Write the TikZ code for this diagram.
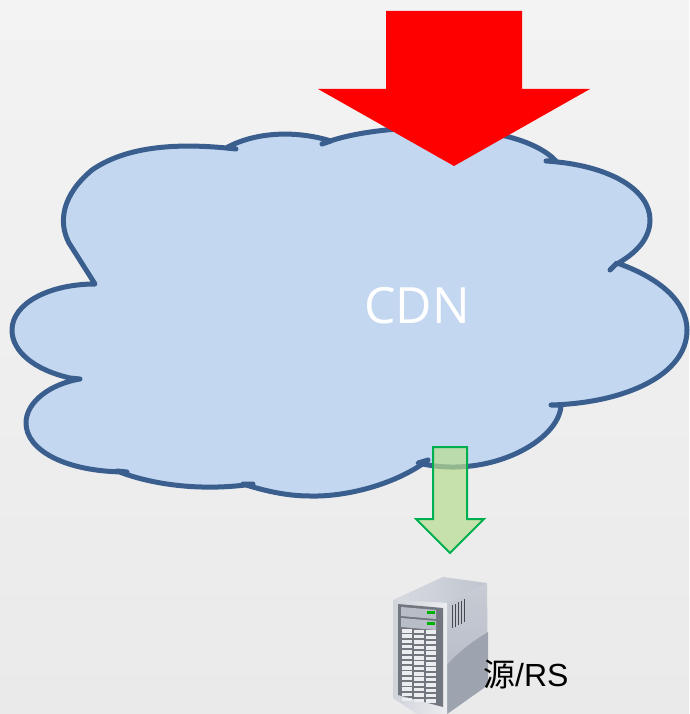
\documentclass[tikz,border=0pt]{standalone}
\usepackage{fontspec}
\setmainfont{Open Sans}
\newfontfamily\cjkfont{Noto Sans CJK SC}
\newfontfamily\rsfont{Liberation Sans}
\definecolor{steel}{RGB}{176,182,194}
\begin{document}
\begin{tikzpicture}[x=1pt,y=-1pt]
        \tikzstyle{cloud line}=[draw={rgb,255:red,58;green,95;blue,142},line width=5pt,line join=round,fill={rgb,255:red,196;green,215;blue,240}];
        \tikzstyle{big arrow}=[fill=red];
        \tikzstyle{small arrow}=[draw={rgb,255:red,0;green,176;blue,80},line width=2pt,fill={rgb,255:red,184;green,221;blue,144},fill opacity=0.7,line join=miter];
        \tikzstyle{every node}=[inner sep=0pt,anchor=base west];
        \useasboundingbox (0,0) rectangle (689,714);
        %background
        \shade[top color={rgb,255:red,243;green,243;blue,243},bottom color={rgb,255:red,234;green,234;blue,234}] (0,0) rectangle (689,714);
        %cloud, one lobe per line
        \path[cloud line] (95,284) -- (69,243)
        .. controls (58,222) and (62,195) .. (92,170) .. controls (125,147) and (175,142) .. (236,149)
        -- (226,148) .. controls (255,132) and (295,130) .. (331,141)
        -- (322,144) .. controls (375,122) and (515,118) .. (556,161)
        -- (546,161) .. controls (610,165) and (650,190) .. (650,220) .. controls (650,238) and (637,253) .. (615,265)
        -- (610,270) -- (617,263) .. controls (660,278) and (687,302) .. (687,330) .. controls (687,375) and (625,403) .. (551,405)
        -- (561,405) .. controls (560,440) and (490,480) .. (418,463)
        -- (428,460) .. controls (395,485) and (345,497) .. (310,496) .. controls (285,496) and (262,490) .. (243,484)
        -- (253,484) .. controls (205,491) and (155,486) .. (117,471)
        -- (127,472) .. controls (65,472) and (26,450) .. (26,423) .. controls (26,402) and (50,384) .. (80,379)
        -- (70,378) .. controls (35,370) and (12,352) .. (12,330) .. controls (12,303) and (50,284) .. (95,284) -- cycle;
        \node (cdn) at (364,323) {\fontsize{50}{50}\selectfont\color{white}CDN};
        %arrows
        \path[big arrow] (386,11) -- (522,11) -- (522,89) -- (590,89) -- (454,166) -- (318,89) -- (386,89) -- cycle;
        \path[small arrow] (433,447) -- (467,447) -- (467,519) -- (484,519) -- (450,553) -- (416,519) -- (433,519) -- cycle;
        %server
        \shade[left color=steel!50!white,right color=steel!80!white] (393,600) -- (443,577) -- (487,583) -- (447,603) -- cycle;
        \shade[top color=steel!70!white,bottom color=steel] (447,603) -- (487,583) -- (488,685) -- (447,714) -- cycle;
        \fill[steel!90!black] (447,665) .. controls (460,650) and (475,640) .. (488,632) -- (488,685) -- (447,714) -- cycle;
        \shade[left color=steel!60!white,right color=steel!25!white] (393,600) -- (447,603) -- (447,714) -- (417,714) -- (393,698) -- cycle;
        \fill[steel!65!black] (398,604) -- (443,608) -- (443,707) -- (398,695) -- cycle;
        \foreach \i in {0,1}{
            \fill[steel!90!white] (401,{607+\i*11}) -- (436,{610+\i*11}) -- (436,{619+\i*11}) -- (401,{616+\i*11}) -- cycle;
            \fill[green!70!black] (427,{611+\i*11}) rectangle (435,{614+\i*11});
        }
        \foreach \c/\x in {0/402,1/414,2/426}{
            \foreach \r in {0,...,13}{
                \fill[steel!25!white] (\x,{629+\r*5.3+\c*0.6}) rectangle ({\x+10},{632.5+\r*5.3+\c*0.6});
            }
        }
        \foreach \x in {452,455,458,461,464}{
            \draw[steel!40!black,line width=0.7pt] (\x,{605-(\x-452)*0.5}) -- (\x,{628-(\x-452)*0.5});
        }
        \node (rs) at (483,686) {\fontsize{32}{32}\selectfont{\cjkfont 源}{\rsfont /RS}};
    \end{tikzpicture}
\end{document}
